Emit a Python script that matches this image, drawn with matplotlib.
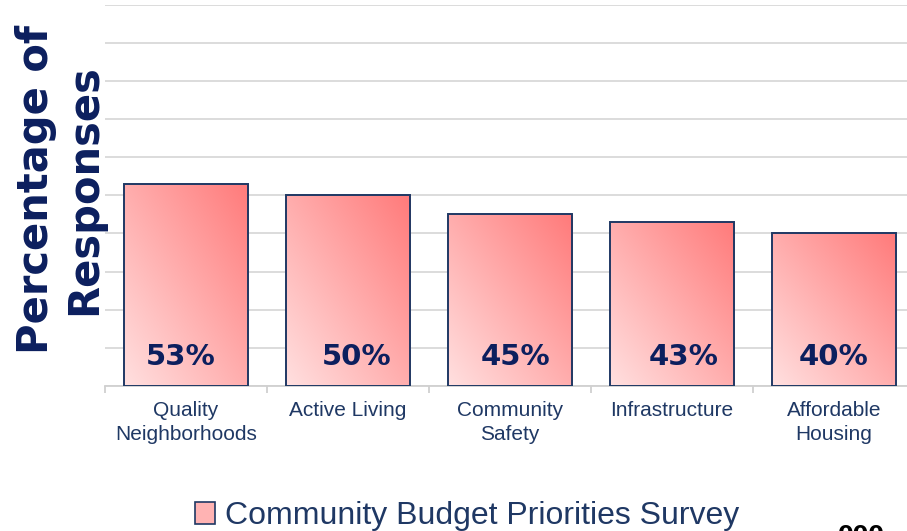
import matplotlib
matplotlib.use("Agg")
import matplotlib.pyplot as plt
import numpy as np
from matplotlib.patches import Patch
from matplotlib.colors import to_rgb

categories = ["Quality\nNeighborhoods", "Active Living", "Community\nSafety",
              "Infrastructure", "Affordable\nHousing"]
values = [53, 50, 45, 43, 40]
value_labels = ["53%", "50%", "45%", "43%", "40%"]
series_name = "Community Budget Priorities Survey"
page_number = "000"

# label placement nudges (pixels), layout only
label_dx = [-5, 9, 5, 12, 0]

NAVY = "#1f3864"
DARK = "#0c1f5e"
GRID = "#d9d9d9"
LIGHT = np.array(to_rgb("#ffe0e0"))
SAT = np.array(to_rgb("#ff7a7a"))

fig = plt.figure(figsize=(9.07, 5.31), dpi=100)
W, H = 907, 531
ax = fig.add_axes([105 / W, (H - 386) / H, 810 / W, 381.5 / H])

x = np.arange(len(values))
bw = 0.77
bars = ax.bar(x, values, width=bw, facecolor="none", edgecolor=NAVY,
              linewidth=1.4, zorder=3)

n = 200
xx, yy = np.meshgrid(np.linspace(0, 1, n), np.linspace(0, 1, n))
t = (xx + yy) / 2.0
grad = LIGHT[None, None, :] * (1 - t[..., None]) + SAT[None, None, :] * t[..., None]
for b in bars:
    x0, w, h = b.get_x(), b.get_width(), b.get_height()
    im = ax.imshow(grad, extent=(x0, x0 + w, 0, h), origin="lower",
                   aspect="auto", zorder=2, interpolation="bilinear")
    im.set_clip_path(b)

ax.set_xlim(-0.5, len(values) - 0.5)
ax.set_ylim(0, 100)
ax.set_yticks(np.arange(0, 101, 10))
ax.yaxis.grid(True, color=GRID, linewidth=1.3, zorder=0)
ax.set_axisbelow(True)
ax.tick_params(axis="y", left=False, labelleft=False)
for s in ["left", "right", "top"]:
    ax.spines[s].set_visible(False)
ax.spines["bottom"].set_color("#d0d0d0")
ax.spines["bottom"].set_linewidth(1.3)

ax.set_xticks(np.arange(-0.5, len(values), 1.0))
ax.set_xticklabels([])
ax.tick_params(axis="x", which="major", length=5, color="#d0d0d0", width=1.3)
ax.set_xticks(x, minor=True)
ax.set_xticklabels(categories, minor=True, fontsize=15, color=NAVY,
                   family="Liberation Sans", linespacing=1.3)
ax.tick_params(axis="x", which="minor", length=0, pad=11)

for xi, lab, dx in zip(x, value_labels, label_dx):
    ax.annotate(lab, xy=(xi, 0), xytext=(dx * 0.72, 29 * 0.72),
                textcoords="offset points", ha="center", va="center",
                fontsize=21, fontweight="heavy", color=DARK,
                family="DejaVu Sans", zorder=5)

fig.text(60 / W, (H - 190) / H, "Percentage of\nResponses", rotation=90,
         ha="center", va="center", fontsize=30, fontweight="heavy",
         color=DARK, family="DejaVu Sans", linespacing=1.2)

handle = Patch(facecolor="#ffb3b3", edgecolor=NAVY, linewidth=1.2)
leg = fig.legend([handle], [series_name], loc="center",
                 bbox_to_anchor=(467 / W, (H - 516) / H), frameon=False,
                 prop={"family": "Liberation Sans", "size": 23},
                 handlelength=0.65, handleheight=0.7, handletextpad=0.3)
for txt in leg.get_texts():
    txt.set_color(NAVY)

fig.text(838 / W, (H - 525) / H, page_number, ha="left", va="top",
         fontsize=16, fontweight="bold", color="black", family="DejaVu Sans")

fig.savefig("out.png", dpi=100)
